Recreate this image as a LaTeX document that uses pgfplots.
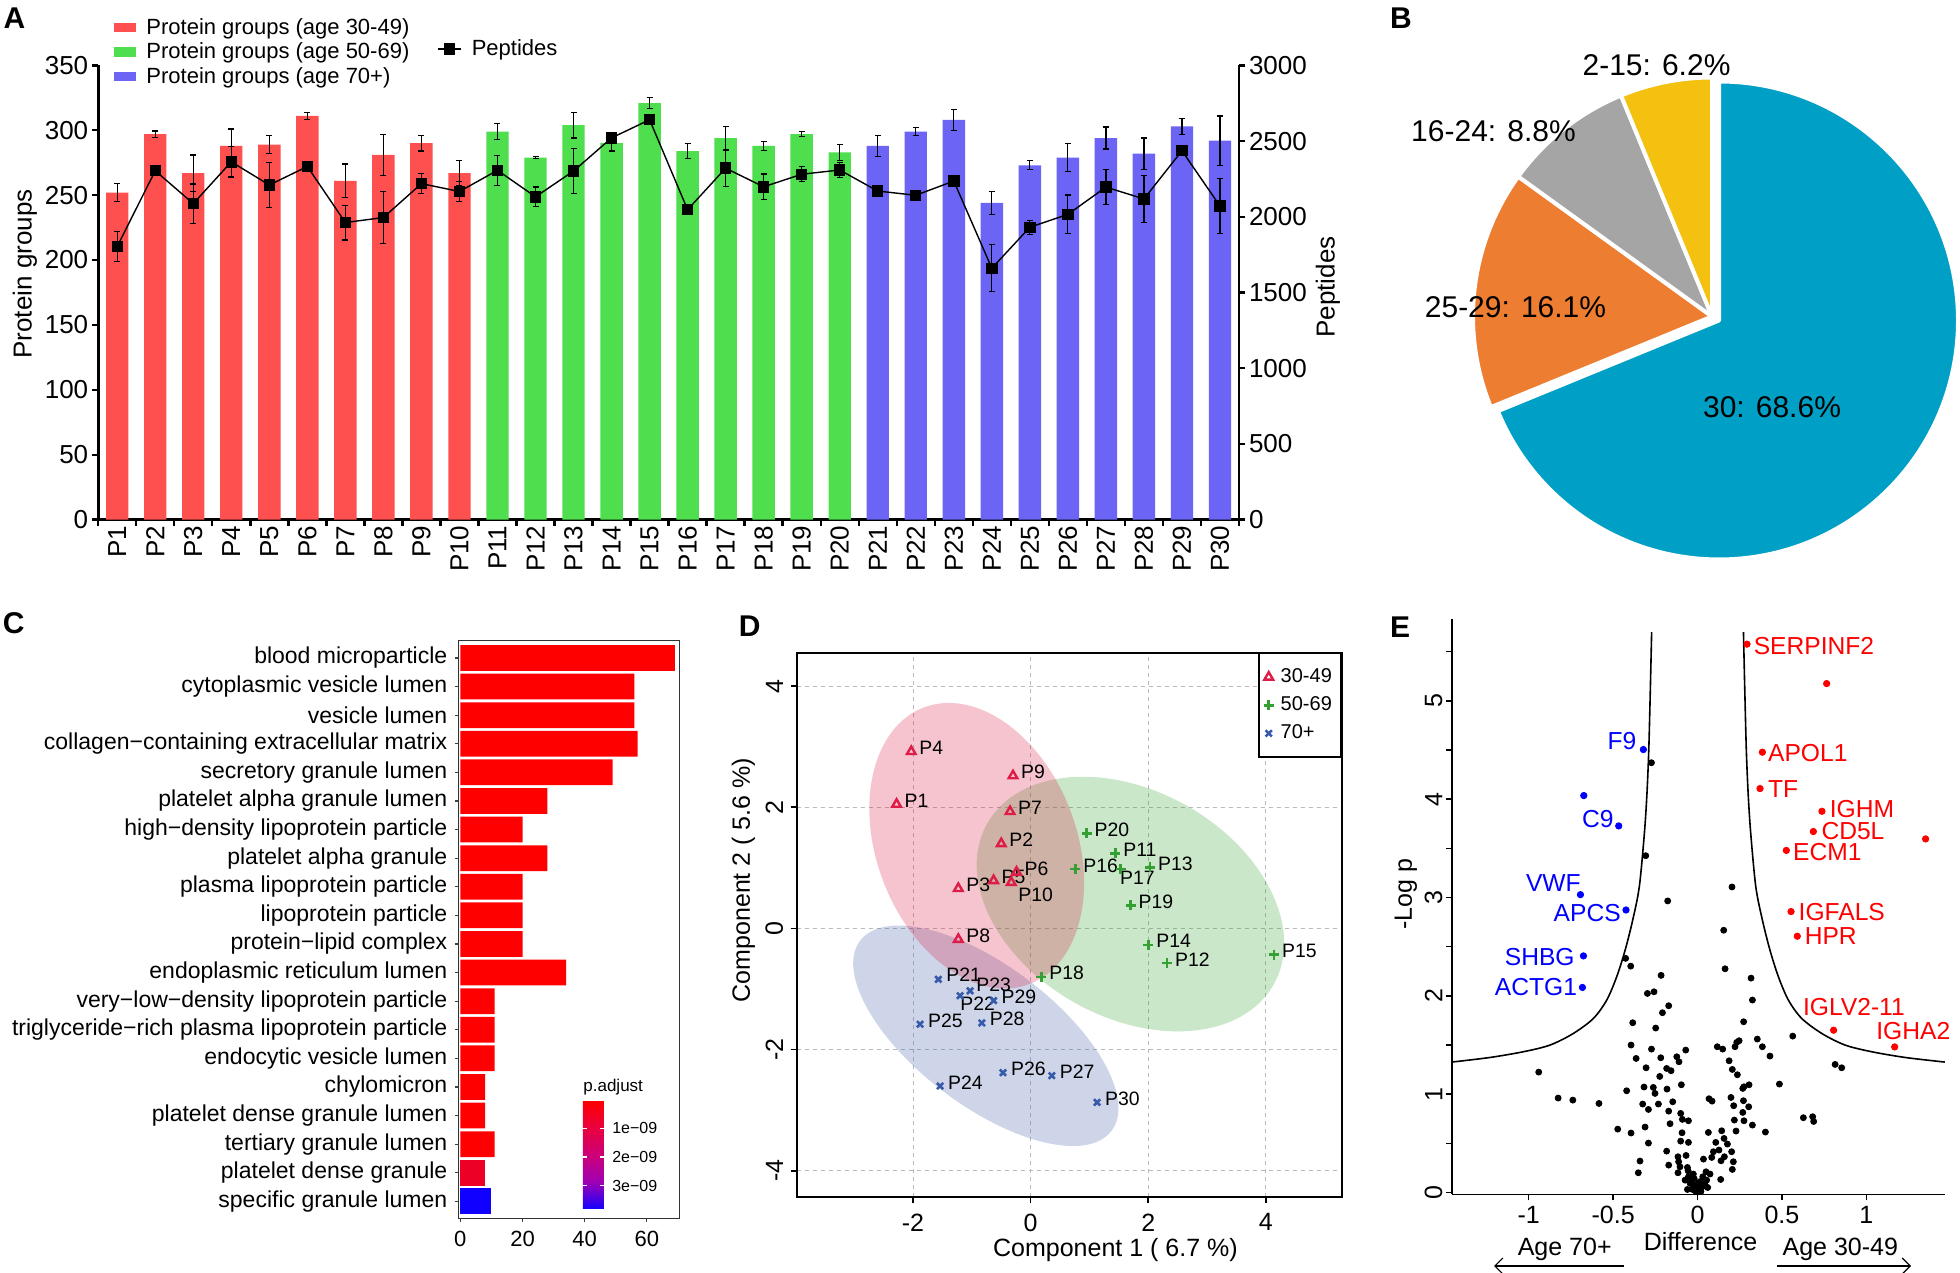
\documentclass[border=0pt]{standalone}
\usepackage{pgfplots}
\pgfplotsset{compat=1.18}
\usepackage{pgfplotstable}
\usepackage{fontspec}
\setmainfont{Liberation Sans}
\usetikzlibrary{arrows.meta}
\pgfplotsset{/pgf/number format/assume math mode=true, /pgf/number format/1000 sep={}}

\definecolor{barR}{RGB}{255,80,80}
\definecolor{barG}{RGB}{78,222,78}
\definecolor{barB}{RGB}{108,100,244}
\definecolor{pieBlue}{RGB}{0,160,198}
\definecolor{pieOrange}{RGB}{237,125,49}
\definecolor{pieGray}{RGB}{165,165,165}
\definecolor{pieYellow}{RGB}{245,193,16}
\definecolor{dRed}{RGB}{222,28,72}
\definecolor{dGreen}{RGB}{52,160,52}
\definecolor{dBlue}{RGB}{55,90,170}
\definecolor{elR}{RGB}{220,20,60}
\definecolor{elG}{RGB}{44,160,44}
\definecolor{elB}{RGB}{60,90,170}
\definecolor{cRed}{RGB}{255,0,0}
\definecolor{cRed2}{RGB}{236,0,38}
\definecolor{cBlue}{RGB}{16,0,255}

\newcommand\fs[1]{\fontsize{#1}{#1}\selectfont}
\tikzset{dl/.style={anchor=west, inner sep=0pt, font=\fs{9.7}, text=black, xshift=3.85pt, yshift=1.85pt}}

% ---------------- Panel A data ----------------
\pgfplotstableread{
x y e
1 252 7
2 297 2.5
3 267 14
4 288 13
5 289 7
6 311 3
7 261 13
8 281 16
9 290 6
10 267 10
}\barsR
\pgfplotstableread{
x y e
11 299 6
12 279 0.5
13 304 10
14 290 6
15 321 4
16 284 6
17 294 9
18 288 3.5
19 297 2
20 283 6
}\barsG
\pgfplotstableread{
x y e
21 288 8
22 299 3
23 308 8
24 244 9
25 273 3.5
26 279 10.5
27 294 8.5
28 282 12
29 303 6
30 292 19
}\barsB
\pgfplotstableread{
x y e
1 1804 100
2 2304 20
3 2087 130
4 2363 100
5 2210 150
6 2332 25
7 1962 115
8 1995 170
9 2219 65
10 2167 65
11 2307 100
12 2132 65
13 2302 150
14 2521 25
15 2641 25
16 2047 20
17 2321 120
18 2198 85
19 2281 50
20 2309 50
21 2170 20
22 2142 20
23 2236 20
24 1660 155
25 1931 47
26 2016 128
27 2196 117
28 2118 157
29 2436 20
30 2071 180
}\pep

% ---------------- Panel B data ----------------
\def\pA{68.6}\def\pB{16.1}\def\pC{8.8}\def\pD{6.2}
\pgfmathsetmacro\pieTot{\pA+\pB+\pC+\pD}
\pgfmathsetmacro\aB{\pA/\pieTot*360}
\pgfmathsetmacro\aO{\pB/\pieTot*360}
\pgfmathsetmacro\aG{\pC/\pieTot*360}
\pgfmathsetmacro\aY{\pD/\pieTot*360}
\pgfmathsetmacro\sO{90-\aB}
\pgfmathsetmacro\sG{\sO-\aO}
\pgfmathsetmacro\sY{\sG-\aG}

% ---------------- Panel C data ----------------
\pgfplotstableread{
v i
11 3
8 4
8 5
11 6
11 7
11 8
34 9
20 10
20 11
20 12
28 13
20 14
28 15
49 16
57 17
56 18
56 19
69 20
}\goRed
\pgfplotstableread{
v i
8 2
}\goRedB
\pgfplotstableread{
v i
10 1
}\goBlue

% ---------------- Panel D data ----------------
\pgfplotstableread{
x y
-2.28 2.05
-0.50 1.40
-1.23 0.66
-2.03 2.92
-0.63 0.79
-0.24 0.93
-0.35 1.93
-1.23 -0.18
-0.30 2.52
-0.33 0.76
}\dR
\pgfplotstableread{
x y
1.44 1.24
2.32 -0.57
2.03 1.01
2.00 -0.27
4.14 -0.43
0.76 0.98
1.53 0.98
0.18 -0.80
1.70 0.38
0.95 1.57
}\dG
\pgfplotstableread{
x y
-1.57 -0.84
-1.20 -1.11
-1.03 -1.03
-1.54 -2.60
-1.88 -1.58
-0.47 -2.38
0.36 -2.43
-0.83 -1.56
-0.63 -1.19
1.13 -2.87
}\dB

% ---------------- Panel E data ----------------
\pgfplotstableread{
x y
-0.426 2.381
-0.396 2.302
-0.216 2.208
-0.297 2.024
-0.258 2.041
-0.171 1.899
-0.208 1.828
-0.384 1.726
-0.248 1.672
-0.394 1.499
-0.273 1.458
-0.070 1.448
-0.364 1.363
-0.218 1.370
-0.123 1.380
-0.110 1.329
-0.305 1.268
-0.183 1.261
-0.157 1.238
-0.224 1.180
-0.941 1.224
-0.317 1.072
-0.262 1.068
-0.181 1.051
-0.096 1.095
-0.252 1.007
-0.420 1.034
-0.826 0.960
-0.739 0.939
-0.584 0.905
-0.325 0.899
-0.291 0.844
-0.232 0.899
-0.147 0.922
-0.171 0.827
-0.100 0.804
-0.090 0.743
-0.163 0.699
-0.054 0.729
-0.311 0.665
-0.473 0.644
-0.394 0.604
-0.092 0.607
-0.291 0.502
-0.100 0.522
-0.054 0.509
-0.183 0.420
-0.116 0.363
-0.068 0.376
-0.341 0.319
-0.171 0.278
-0.112 0.312
-0.104 0.261
-0.060 0.254
-0.351 0.200
-0.116 0.200
-0.056 0.220
-0.025 0.187
-0.074 0.125
-0.044 0.092
-0.015 0.075
0.005 0.092
-0.054 0.159
-0.035 0.125
-0.025 0.051
-0.005 0.024
-0.005 0.075
0.163 2.275
0.317 2.180
0.325 1.957
0.273 1.736
0.117 1.482
0.149 1.458
0.232 1.526
0.246 1.543
0.222 1.482
0.354 1.560
0.384 1.482
0.429 1.387
0.564 1.590
0.187 1.339
0.206 1.251
0.236 1.197
0.275 1.075
0.305 1.095
0.268 1.058
0.485 1.102
0.068 0.953
0.086 0.929
0.198 0.966
0.272 0.933
0.214 0.882
0.303 0.871
0.268 0.814
0.218 0.736
0.275 0.729
0.325 0.685
0.402 0.614
0.064 0.610
0.143 0.627
0.228 0.624
0.157 0.549
0.108 0.509
0.177 0.492
0.127 0.431
0.202 0.414
0.159 0.363
0.035 0.339
0.084 0.356
0.094 0.414
0.139 0.322
0.212 0.312
0.206 0.234
0.050 0.210
0.074 0.187
0.031 0.159
0.137 0.132
0.627 0.760
0.682 0.770
0.688 0.722
0.815 1.302
0.854 1.268
0.054 0.125
0.025 0.092
0.044 0.075
-0.273 4.371
-0.307 3.425
0.204 3.107
-0.177 2.965
0.155 2.667
0.010 0.040
0.020 0.010
-0.010 0.010
0.030 0.060
-0.030 0.030
0.000 0.005
0.015 0.110
-0.020 0.140
0.060 0.050
-0.060 0.030
}\eBlack
\pgfplotstableread{
x y
-0.321 4.505
-0.674 4.037
-0.467 3.728
-0.694 3.029
-0.424 2.873
-0.676 2.406
-0.682 2.085
}\eBlue
\pgfplotstableread{
x y
0.293 5.577
0.765 5.176
0.384 4.478
0.370 4.108
0.737 3.877
0.686 3.671
1.351 3.596
0.526 3.479
0.554 2.857
0.591 2.606
0.806 1.650
1.168 1.480
}\eRed
\pgfplotstableread{
x y
-1.456 1.326
-1.229 1.373
-1.032 1.431
-0.874 1.499
-0.736 1.617
-0.617 1.770
-0.538 1.957
-0.479 2.194
-0.429 2.465
-0.384 2.772
-0.345 3.111
-0.315 3.654
-0.300 4.050
-0.289 4.500
-0.280 5.100
-0.272 5.700
}\eCurveL
\pgfplotstableread{
x y
0.272 5.700
0.280 5.100
0.289 4.500
0.300 4.050
0.315 3.654
0.345 3.111
0.384 2.772
0.429 2.465
0.479 2.194
0.538 1.957
0.617 1.770
0.736 1.617
0.874 1.499
1.032 1.431
1.229 1.373
1.465 1.326
}\eCurveR

\begin{document}
\begin{tikzpicture}
\path[use as bounding box, fill=white] (0,0) rectangle (980pt,636.5pt);

% ================= Panel A =================
\begin{axis}[
  at={(49.1pt,376.7pt)}, anchor=south west,
  scale only axis, width=570.4pt, height=227.1pt,
  xmin=0.5, xmax=30.5, ymin=0, ymax=350,
  axis x line*=bottom, axis y line*=left,
  axis line style={line width=1.4pt, -},
  tick align=outside, major tick length=3.2pt,
  tick style={line width=1.2pt, black},
  xtick={0.5,1.5,...,30.5}, xticklabels={},
  extra x ticks={1,2,...,30},
  extra x tick labels={P1,P2,P3,P4,P5,P6,P7,P8,P9,P10,P11,P12,P13,P14,P15,P16,P17,P18,P19,P20,P21,P22,P23,P24,P25,P26,P27,P28,P29,P30},
  extra x tick style={major tick length=0pt},
  xticklabel style={rotate=90, anchor=east, inner sep=2.8pt, font=\fs{13}},
  ytick={0,50,...,350},
  yticklabel style={font=\fs{13}, inner sep=1.6pt},
  legend style={at={(0.0139,1.105)}, anchor=north west, draw=none, fill=none,
     font=\fs{11}, inner sep=0pt, row sep=2.8pt, column sep=5pt,
     nodes={inner sep=0pt}, cells={anchor=west}},
  legend image code/.code={\fill[#1] (0pt,-2.4pt) rectangle (11pt,2.4pt);},
]
\addplot[ybar, bar width=11.2pt, bar shift=0pt, fill=barR, draw=none,
  error bars/.cd, y dir=both, y explicit,
  error bar style={line width=0.6pt, black},
  error mark options={rotate=90, mark size=1.5pt, line width=0.6pt, black}]
  table[x=x, y=y, y error=e]{\barsR};
\addlegendentry{Protein groups (age 30-49)}
\addplot[ybar, bar width=11.2pt, bar shift=0pt, fill=barG, draw=none,
  error bars/.cd, y dir=both, y explicit,
  error bar style={line width=0.6pt, black},
  error mark options={rotate=90, mark size=1.5pt, line width=0.6pt, black}]
  table[x=x, y=y, y error=e]{\barsG};
\addlegendentry{Protein groups (age 50-69)}
\addplot[ybar, bar width=11.2pt, bar shift=0pt, fill=barB, draw=none,
  error bars/.cd, y dir=both, y explicit,
  error bar style={line width=0.6pt, black},
  error mark options={rotate=90, mark size=1.5pt, line width=0.6pt, black}]
  table[x=x, y=y, y error=e]{\barsB};
\addlegendentry{Protein groups (age 70+)}
\end{axis}

\begin{axis}[
  at={(49.1pt,376.7pt)}, anchor=south west,
  scale only axis, width=570.4pt, height=227.1pt,
  xmin=0.5, xmax=30.5, ymin=0, ymax=3000,
  axis x line=none, axis y line*=right,
  axis line style={line width=1.4pt, -},
  tick align=outside, major tick length=3.2pt,
  tick style={line width=1.2pt, black},
  ytick={0,500,...,3000},
  yticklabel style={font=\fs{13}, inner sep=1.6pt},
  legend style={at={(0.297,1.036)}, anchor=west, draw=none, fill=none,
     font=\fs{11}, inner sep=0pt, column sep=5pt, nodes={inner sep=0pt}},
  legend image code/.code={\draw[mark repeat=2,mark phase=2,#1] plot coordinates {(0pt,0pt) (5.75pt,0pt) (11.5pt,0pt)};},
]
\addplot[black, line width=0.7pt, mark=square*, mark size=2.5pt, mark options={fill=black},
  error bars/.cd, y dir=both, y explicit,
  error bar style={line width=0.6pt, black},
  error mark options={rotate=90, mark size=1.5pt, line width=0.6pt, black}]
  table[x=x, y=y, y error=e]{\pep};
\addlegendentry{Peptides}
\end{axis}
\node[rotate=90, font=\fs{13}] at (12.5pt,499.5pt) {Protein groups};
\node[rotate=90, font=\fs{13}] at (664pt,493pt) {Peptides};

% ================= Panel B =================
\begin{axis}[
  at={(856pt,478.25pt)}, anchor=origin, hide axis, disabledatascaling,
  x=1pt, y=1pt, xmin=-130, xmax=130, ymin=-130, ymax=130, clip=false,
]
\fill[pieOrange, draw=white, line width=2pt, line join=round] (axis cs:0,0) -- ++(\sO:119.5pt) arc[start angle=\sO, delta angle=-\aO, radius=119.5pt] -- cycle;
\fill[pieGray, draw=white, line width=2pt, line join=round] (axis cs:0,0) -- ++(\sG:119.5pt) arc[start angle=\sG, delta angle=-\aG, radius=119.5pt] -- cycle;
\fill[pieYellow, draw=white, line width=2pt, line join=round] (axis cs:0,0) -- ++(\sY:119.5pt) arc[start angle=\sY, delta angle=-\aY, radius=119.5pt] -- cycle;
\fill[pieBlue, draw=white, line width=2pt, line join=round] (axis cs:3.5,-2) -- ++(90:119.5pt) arc[start angle=90, delta angle=-\aB, radius=119.5pt] -- cycle;
\end{axis}
\node[font=\fs{15}] at (828.25pt,604pt) {2-15: 6.2\%};
\node[font=\fs{15}] at (746.75pt,571pt) {16-24: 8.8\%};
\node[font=\fs{15}] at (757.75pt,483pt) {25-29: 16.1\%};
\node[font=\fs{15}] at (886pt,433pt) {30: 68.6\%};

% ================= Panel C =================
\begin{axis}[
  at={(229.25pt,27.25pt)}, anchor=south west,
  scale only axis, width=110.5pt, height=288.85pt,
  xmin=-0.6, xmax=70.5, ymin=0.4, ymax=20.6,
  axis line style={draw=black!80, line width=0.7pt},
  xtick={0,20,40,60}, xtick pos=bottom,
  ytick={1,...,20}, ytick pos=left,
  yticklabels={specific granule lumen,platelet dense granule,tertiary granule lumen,platelet dense granule lumen,chylomicron,endocytic vesicle lumen,triglyceride−rich plasma lipoprotein particle,very−low−density lipoprotein particle,endoplasmic reticulum lumen,protein−lipid complex,lipoprotein particle,plasma lipoprotein particle,platelet alpha granule,high−density lipoprotein particle,platelet alpha granule lumen,secretory granule lumen,collagen−containing extracellular matrix,vesicle lumen,cytoplasmic vesicle lumen,blood microparticle},
  tick align=outside, major tick length=1.8pt,
  tick style={black!75, line width=0.6pt},
  yticklabel style={font=\fs{11.5}, inner sep=3.6pt},
  xticklabel style={font=\fs{11}, inner sep=4.2pt},
  colormap={padj}{rgb255=(255,0,0) rgb255=(233,0,62) rgb255=(205,0,120) rgb255=(160,0,180) rgb255=(20,0,255)},
  point meta min=0.03e-9, point meta max=3.82e-9,
  colorbar,
  colorbar style={
    at={(parent axis.south west)}, anchor=south west, xshift=53.65pt, yshift=4.75pt,
    scale only axis, width=10.5pt, height=54.15pt,
    y dir=reverse,
    ytick={1e-9,2e-9,3e-9}, yticklabels={1e−09,2e−09,3e−09},
    scaled y ticks=false,
    yticklabel pos=right, ytick pos=both,
    tick align=inside, major tick length=2pt,
    tick style={white, line width=0.6pt},
    axis line style={draw=none},
    yticklabel style={font=\fs{8}, inner sep=0pt, xshift=4pt},
  },
]
\addplot[xbar, bar width=0.9, bar shift=0pt, fill=cRed, draw=none] table[x=v, y=i]{\goRed};
\addplot[xbar, bar width=0.9, bar shift=0pt, fill=cRed2, draw=none] table[x=v, y=i]{\goRedB};
\addplot[xbar, bar width=0.9, bar shift=0pt, fill=cBlue, draw=none] table[x=v, y=i]{\goBlue};
\end{axis}
\node[font=\fs{8.5}, anchor=west, inner sep=0pt] at (291.5pt,93.15pt) {p.adjust};

% ================= Panel D =================
\begin{axis}[
  at={(398.3pt,37.75pt)}, anchor=south west,
  scale only axis, width=272.55pt, height=272.35pt,
  xmin=-3.98, xmax=5.29, ymin=-4.44, ymax=4.55,
  axis line style={line width=1pt},
  xtick={-2,0,2,4}, ytick={-4,-2,0,2,4},
  xticklabels={-2,0,2,4}, yticklabels={-4,-2,0,2,4},
  xtick pos=bottom, ytick pos=left,
  tick align=outside, major tick length=3pt, tick style={line width=0.8pt, black},
  grid=major, grid style={gray!55, dash pattern=on 2pt off 2pt, line width=0.5pt},
  xticklabel style={font=\fs{12.5}, inner sep=4.9pt},
  yticklabel style={font=\fs{12.5}, rotate=90, anchor=south, inner sep=3.5pt},
  legend style={at={(1,1)}, anchor=north east, draw=black, line width=0.8pt, fill=white,
     font=\fs{10}, inner xsep=2.5pt, inner ysep=5.5pt, row sep=1.6pt, column sep=1.5pt, cells={anchor=west}},
  legend image code/.code={\draw[mark repeat=2,mark phase=2,#1] plot coordinates {(-2.5pt,0pt) (0pt,0pt) (2.5pt,0pt)};},
]
\fill[elG, fill opacity=0.25, rotate around={-29.2:(axis cs:1.697,0.403)}] (axis cs:1.697,0.403) ellipse [x radius=82.15pt, y radius=56.65pt];
\fill[elB, fill opacity=0.25, rotate around={-37.1:(axis cs:-0.762,-1.771)}] (axis cs:-0.762,-1.771) ellipse [x radius=78.8pt, y radius=35pt];
\fill[elR, fill opacity=0.25, rotate around={-69:(axis cs:-0.917,1.366)}] (axis cs:-0.917,1.366) ellipse [x radius=74pt, y radius=50pt];
\addplot[only marks, mark=triangle, mark size=2.5pt, dRed, line width=1.2pt] table[x=x, y=y]{\dR};
\addlegendentry{30-49}
\addplot[only marks, mark=+, mark size=2.5pt, dGreen, line width=1.3pt] table[x=x, y=y]{\dG};
\addlegendentry{50-69}
\addplot[only marks, mark=x, mark size=2.2pt, dBlue, line width=1.3pt] table[x=x, y=y]{\dB};
\addlegendentry{70+}
% point labels
\node[dl] at (axis cs:-2.28,2.05) {P1};
\node[dl] at (axis cs:-0.50,1.40) {P2};
\node[dl] at (axis cs:-1.23,0.66) {P3};
\node[dl] at (axis cs:-2.03,2.92) {P4};
\node[dl] at (axis cs:-0.63,0.79) {P5};
\node[dl] at (axis cs:-0.24,0.93) {P6};
\node[dl] at (axis cs:-0.35,1.93) {P7};
\node[dl] at (axis cs:-1.23,-0.18) {P8};
\node[dl] at (axis cs:-0.30,2.52) {P9};
\node[dl, xshift=-0.5pt, yshift=-8.2pt] at (axis cs:-0.33,0.76) {P10};
\node[dl] at (axis cs:1.44,1.24) {P11};
\node[dl] at (axis cs:2.32,-0.57) {P12};
\node[dl] at (axis cs:2.03,1.01) {P13};
\node[dl] at (axis cs:2.00,-0.27) {P14};
\node[dl] at (axis cs:4.14,-0.43) {P15};
\node[dl] at (axis cs:0.76,0.98) {P16};
\node[dl, xshift=-4.25pt, yshift=-6.35pt] at (axis cs:1.53,0.98) {P17};
\node[dl] at (axis cs:0.18,-0.80) {P18};
\node[dl] at (axis cs:1.70,0.38) {P19};
\node[dl] at (axis cs:0.95,1.57) {P20};
\node[dl, yshift=0.3pt] at (axis cs:-1.57,-0.84) {P21};
\node[dl, xshift=-3.85pt, yshift=-5.7pt] at (axis cs:-1.20,-1.11) {P22};
\node[dl, xshift=-0.85pt, yshift=1.3pt] at (axis cs:-1.03,-1.03) {P23};
\node[dl] at (axis cs:-1.54,-2.60) {P24};
\node[dl] at (axis cs:-1.88,-1.58) {P25};
\node[dl] at (axis cs:-0.47,-2.38) {P26};
\node[dl] at (axis cs:0.36,-2.43) {P27};
\node[dl] at (axis cs:-0.83,-1.56) {P28};
\node[dl] at (axis cs:-0.63,-1.19) {P29};
\node[dl] at (axis cs:1.13,-2.87) {P30};
\end{axis}
\node[font=\fs{12.5}] at (557.7pt,11.5pt) {Component 1 ( 6.7 \%)};
\node[font=\fs{12.5}, rotate=90] at (371.75pt,196.5pt) {Component 2 ( 5.6 \%)};

% ================= Panel E =================
\begin{axis}[
  at={(725.9pt,39.3pt)}, anchor=south west,
  scale only axis, width=246.5pt, height=287.55pt,
  xmin=-1.456, xmax=1.465, ymin=-0.02, ymax=5.83,
  axis x line*=bottom, axis y line*=left,
  axis line style={line width=0.8pt, -},
  xtick={-1,-0.5,0,0.5,1}, xticklabels={-1,-0.5,0,0.5,1},
  ytick={0,0.5,1,1.5,2,2.5,3,3.5,4,4.5,5,5.5},
  yticklabels={0,{},1,{},2,{},3,{},4,{},5,{}},
  tick align=outside, major tick length=3pt, tick style={line width=0.7pt, black},
  xticklabel style={font=\fs{12.5}, inner sep=2.7pt},
  yticklabel style={font=\fs{12.5}, rotate=90, anchor=south, inner sep=1.5pt},
  clip=false,
]
\addplot[black, line width=0.8pt, smooth, tension=0.5] table[x=x,y=y]{\eCurveL};
\addplot[black, line width=0.8pt, smooth, tension=0.5] table[x=x,y=y]{\eCurveR};
\addplot[only marks, mark=*, mark size=1.5pt, black] table[x=x,y=y]{\eBlack};
\addplot[only marks, mark=*, mark size=1.6pt, blue] table[x=x,y=y]{\eBlue};
\addplot[only marks, mark=*, mark size=1.6pt, red] table[x=x,y=y]{\eRed};
\begin{scope}[every node/.style={font=\fs{12.3}, inner sep=0pt}]
\node[red, anchor=west] at (axis cs:0.331,5.563) {SERPINF2};
\node[red, anchor=west] at (axis cs:0.416,4.468) {APOL1};
\node[red, anchor=west] at (axis cs:0.416,4.108) {TF};
\node[red, anchor=west] at (axis cs:0.781,3.905) {IGHM};
\node[red, anchor=west] at (axis cs:0.732,3.675) {CD5L};
\node[red, anchor=west] at (axis cs:0.564,3.458) {ECM1};
\node[red, anchor=west] at (axis cs:0.597,2.850) {IGFALS};
\node[red, anchor=west] at (axis cs:0.633,2.603) {HPR};
\node[red, anchor=west] at (axis cs:0.623,1.889) {IGLV2-11};
\node[red, anchor=west] at (axis cs:1.057,1.645) {IGHA2};
\node[blue, anchor=east] at (axis cs:-0.360,4.596) {F9};
\node[blue, anchor=east] at (axis cs:-0.495,3.796) {C9};
\node[blue, anchor=east] at (axis cs:-0.690,3.151) {VWF};
\node[blue, anchor=east] at (axis cs:-0.453,2.840) {APCS};
\node[blue, anchor=east] at (axis cs:-0.726,2.397) {SHBG};
\node[blue, anchor=east] at (axis cs:-0.712,2.085) {ACTG1};
\end{scope}
\end{axis}
\node[font=\fs{12.5}, rotate=90] at (702.95pt,189.5pt) {-Log p};
\node[font=\fs{12.5}] at (850.3pt,15.7pt) {Difference};
\node[font=\fs{12.5}] at (782.35pt,12pt) {Age 70+};
\node[font=\fs{12.5}] at (920.15pt,12pt) {Age 30-49};
\draw[line width=0.6pt, -{Straight Barb[length=4pt]}] (812pt,3.5pt) -- (747pt,3.5pt);
\draw[line width=0.6pt, -{Straight Barb[length=4pt]}] (888.5pt,3.5pt) -- (955.5pt,3.5pt);

% ================= Panel letters =================
\node[font=\bfseries\fs{15}] at (7.25pt,627.5pt) {A};
\node[font=\bfseries\fs{15}] at (700.5pt,627.25pt) {B};
\node[font=\bfseries\fs{15}] at (6.9pt,324.7pt) {C};
\node[font=\bfseries\fs{15}] at (374.9pt,323.65pt) {D};
\node[font=\bfseries\fs{15}] at (700pt,323.1pt) {E};
\end{tikzpicture}
\end{document}
